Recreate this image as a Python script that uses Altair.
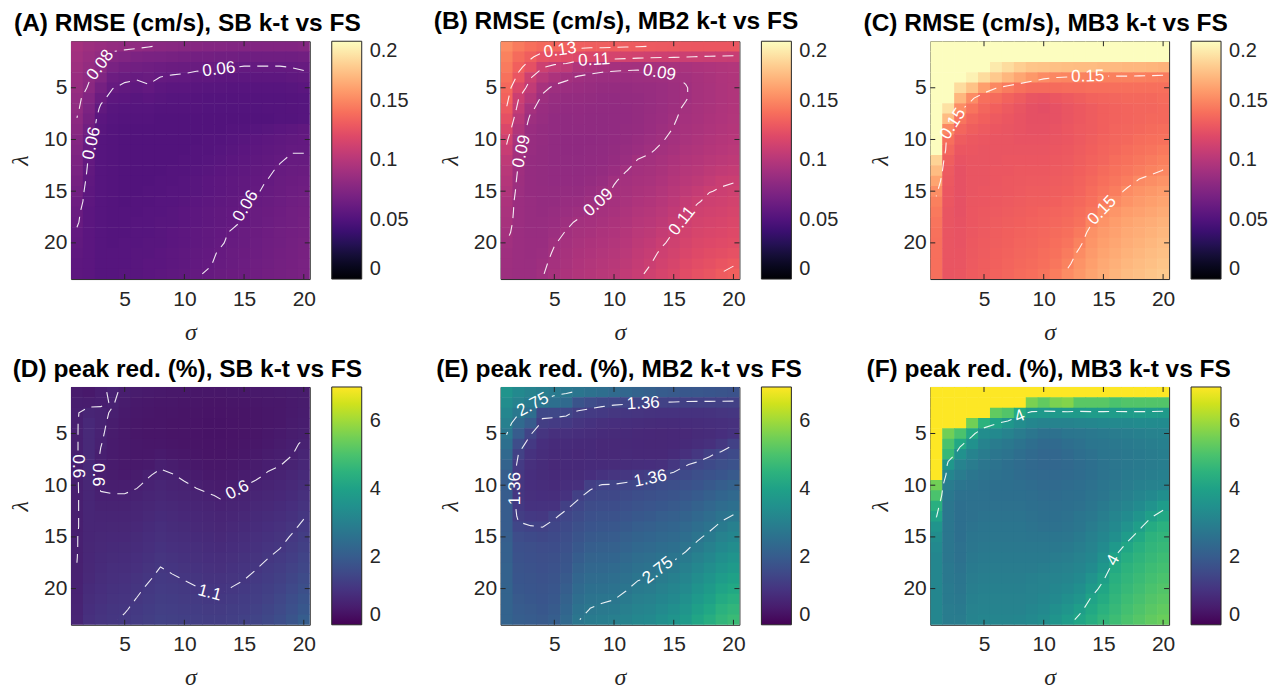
import math
import numpy as np
import pandas as pd
import altair as alt

# ---------------- axes values ----------------
SIGMA = list(range(1, 21))      # columns
LAMBDA = list(range(1, 24))     # rows
X_TICKS = [5, 10, 15, 20]
Y_TICKS = [5, 10, 15, 20]

TITLES = [
    "(A) RMSE (cm/s), SB k-t vs FS",
    "(B) RMSE (cm/s), MB2 k-t vs FS",
    "(C) RMSE (cm/s), MB3 k-t vs FS",
    "(D) peak red. (%), SB k-t vs FS",
    "(E) peak red. (%), MB2 k-t vs FS",
    "(F) peak red. (%), MB3 k-t vs FS",
]

# ---------------- (A) RMSE SB, x1000 ----------------
A_COL1 = [92, 90, 88, 86, 85, 83, 82, 79.8, 78, 76, 74, 72, 70, 68, 66, 64, 62, 61, 59, 58, 57, 56, 56]
A_COL2 = [88, 86, 84, 81, 79, 75, 72, 69, 66, 63, 61, 59, 58, 57, 56, 56, 55, 55, 55, 55, 55, 55, 55]
A_REST = [  # columns 3..20, one row per lambda
    [86, 84, 83, 82, 80.5, 79, 78, 77, 77, 76, 76, 75, 75, 75, 75, 75, 75, 76],
    [83, 76, 74, 72, 71, 70, 69, 68, 67, 67, 66, 66, 65, 65, 65, 65, 65, 66],
    [79, 70, 67, 66, 65, 64, 63, 62.5, 62, 61.5, 61, 60.3, 59.5, 59.5, 59.5, 59.5, 60.2, 61],
    [74, 64, 62, 61, 62, 59.8, 59, 58.5, 57, 57, 56, 56, 56, 56, 56, 56, 57, 58],
    [68, 60.4, 58, 57, 59, 56, 55, 55, 54.5, 54, 54, 53.5, 53.5, 53.5, 53.5, 53.5, 54, 55],
    [63, 56, 55, 54, 55, 54, 53, 53, 52.5, 52, 52, 52, 52, 52, 52, 52, 52.5, 53],
    [58, 54, 53, 53, 53, 52, 52, 52, 52, 51.5, 51.5, 51.5, 51.5, 51.5, 52, 52, 52.5, 53],
    [55, 53, 52, 52, 52, 51, 51, 51, 51, 51, 51, 51, 51, 51, 51, 52, 52, 53],
    [54, 52, 51, 51, 51, 51, 51, 51, 51, 51, 51, 52, 52, 53, 54, 55, 56, 57.5],
    [53, 52, 51, 51, 51, 51, 51, 51, 51, 52, 52, 53, 54, 55, 56, 57, 58, 59],
    [53, 52, 51, 51, 51, 51, 51, 51, 52, 52, 53, 54, 55, 56, 57, 58, 59.5, 59.5],
    [53, 52, 51, 51, 51, 51, 51, 52, 52, 53, 54, 55, 56, 57, 58, 59.5, 61, 61],
    [53, 52, 51, 51, 51, 51, 52, 52, 53, 54, 55, 56, 57, 58, 59, 61, 62, 62.5],
    [53, 52, 51, 51, 51, 52, 52, 53, 54, 55, 56, 57, 58, 59, 60.2, 62, 63, 64],
    [53, 52, 51, 51, 52, 52, 53, 53, 54, 55, 56, 57, 58, 59.5, 61, 62.5, 64, 65],
    [53, 52, 51, 52, 52, 53, 53, 54, 55, 56, 57, 58, 59.5, 61, 62, 63.5, 65, 66],
    [53, 52, 52, 52, 53, 53, 54, 55, 56, 57, 58, 59, 60.2, 62, 63, 64.5, 66, 67],
    [53, 52, 52, 53, 53, 54, 54, 55, 56, 57, 58, 59, 60.5, 62, 63.5, 65, 66, 67.5],
    [53, 52, 52, 53, 53, 54, 55, 56, 57, 58, 59, 60.5, 62, 63, 64.5, 66, 67, 68],
    [53, 52, 53, 53, 54, 54, 55, 56, 57, 58, 59.5, 61, 62, 63.5, 65, 66, 67.5, 69],
    [53, 53, 53, 54, 54, 55, 56, 57, 58, 59, 60.5, 62, 63, 64, 65.5, 67, 68, 69.5],
    [53, 53, 53, 54, 55, 55, 56, 57, 58.5, 59.5, 61, 62, 63.5, 65, 66, 67.5, 68.5, 70],
    [53, 53, 54, 54, 55, 56, 57, 58, 59.5, 60.5, 62, 63, 64, 65.5, 67, 68, 69, 71],
]

# ---------------- (B) RMSE MB2, x1000, one list per sigma column ----------------
B_COLS = [
    [152, 148, 145, 141, 137, 134, 129.5, 124, 118, 112, 108, 104, 101, 99, 97, 95, 94, 93, 91.5, 89.8, 89, 88.5, 88],
    [145, 138, 133, 127, 118, 110.5, 106, 101, 97, 94, 92, 90.5, 89, 88, 87.5, 87, 87, 87, 87, 87, 87, 87, 87],
    [140, 132, 124, 111, 105, 99, 92, 88, 86, 85, 85, 84.5, 84.5, 84.5, 84.5, 85, 85, 85, 85.5, 86, 86, 86.5, 87],
    [137, 125, 111, 101, 93, 88, 86, 85, 84, 84, 83.5, 83.5, 83.5, 83.5, 84, 84, 84.5, 85, 85.5, 86, 87, 88.5, 89.5],
    [136, 123, 106, 95, 88, 85, 84, 83, 83, 82.5, 82.5, 82.5, 83, 83, 83.5, 84, 85, 86, 87.5, 89.5, 91, 92, 93],
    [133, 121, 104, 91.5, 87, 84, 83, 82, 82, 81.5, 81.5, 82, 82.5, 83, 84, 85, 86.5, 88.5, 90.5, 92, 93, 94, 95],
    [132.5, 119, 97, 89, 86, 84, 83, 82.5, 82, 81.5, 81.5, 82, 82.5, 83, 84, 85.5, 88, 91, 92.5, 94, 95, 96.5, 97.5],
    [132, 117, 95, 87.5, 85, 83.5, 82.5, 82, 82, 81.5, 82, 82.5, 83, 84, 85.5, 88, 90.5, 92, 93.5, 95, 96.5, 98, 99],
    [132, 116, 93, 87, 84.5, 83, 82.5, 82, 82, 82, 82.5, 83, 84, 85.5, 88, 90.5, 92, 93.5, 95, 96.5, 98, 99.5, 101],
    [131.5, 115, 92, 87, 84.5, 83, 82.5, 82.5, 82.5, 83, 83.5, 84.5, 86, 89.5, 90.8, 92, 93.5, 95, 96.5, 98, 99.5, 101, 102.5],
    [131, 114, 91.5, 87, 84.5, 83.5, 83, 83, 83.5, 84, 85, 86.5, 89.8, 91.5, 92.5, 94, 95.5, 97, 99, 100.5, 102, 103.5, 105],
    [130.5, 113, 91, 87.5, 85, 84, 84, 84, 84.5, 85.5, 87, 90.3, 91.5, 93, 94.5, 96, 98, 100, 102, 103.5, 105, 106.5, 108],
    [129.8, 112, 91.5, 88, 85.5, 85, 85, 85.5, 86, 87.5, 89.3, 91, 92.5, 94, 95.5, 97.5, 99.5, 101.5, 103.5, 105.5, 107.5, 109.5, 112],
    [129.5, 111.5, 92, 88.5, 86.5, 86.5, 86.5, 87, 88, 89.5, 91, 93, 94.5, 96, 98, 100, 102, 104, 106.5, 109, 111.5, 113.5, 115.5],
    [129, 111, 93, 89.5, 88, 88, 88.5, 89.3, 90.3, 91.5, 93, 95, 97, 99, 101, 103, 105, 107.5, 110.2, 112, 114, 116, 118],
    [128.5, 110.5, 94, 91, 89.5, 89.5, 91, 92, 93, 94, 95.5, 97.5, 99.5, 101.5, 104, 106.5, 109, 111.5, 113.5, 115.5, 117.5, 120, 122],
    [128, 109.8, 95, 93, 92.5, 92.5, 93, 93.5, 94.5, 95.5, 97, 99, 101, 103.5, 106.5, 109.5, 112, 114, 116, 118, 120, 122.5, 125],
    [128, 109, 96, 94.5, 94, 94, 94.5, 95, 96, 97.5, 99, 101, 103.5, 106, 109.8, 111.5, 113.5, 115.5, 117.5, 119.5, 122, 124.5, 127],
    [128, 108.5, 97, 96, 95.5, 95.5, 96, 96.5, 97.5, 99, 100.5, 102.5, 105, 109.3, 110.5, 112.5, 114.5, 116.5, 118.5, 120.5, 123, 126.5, 130.5],
    [128, 108, 98, 97, 97, 97, 97.5, 98, 99, 100.5, 102, 104, 106.5, 109.5, 112, 114, 116, 118, 120, 122, 125, 129, 133],
]

# ---------------- (C) RMSE MB3, x1000, one list per lambda row ----------------
C_ROWS = [
    [240] * 20,
    [220] * 20,
    [215, 212, 210, 205, 202, 192, 186, 180, 176, 175, 174, 173, 172, 172, 171, 171, 170, 170, 169, 168],
    [215, 210, 204, 195, 186, 178, 170, 163, 157, 152, 150.2, 149, 148, 147.5, 147, 147, 147, 146.5, 146, 145],
    [212, 205, 186, 175, 160, 150.5, 145, 141, 138, 138, 138, 139, 139, 140, 140, 140, 140, 140, 140, 140],
    [210, 200, 170, 152, 140, 138, 134, 131, 127, 126, 128, 130, 132, 134, 135, 136, 137, 137, 137, 138],
    [208, 188, 153, 142, 136, 133, 130, 127, 124, 123, 125, 127, 129, 131, 133, 134, 135, 136, 136, 137],
    [207, 172, 142, 136, 133, 130, 128, 126, 124, 124, 125, 127, 129, 131, 133, 134, 135, 136, 137, 137],
    [206, 150.5, 136, 132, 130, 128, 127, 126, 125, 125, 126, 128, 130, 131, 133, 135, 136, 137, 138, 139],
    [205, 140, 131, 129, 128, 127, 127, 126, 126, 126, 127, 128, 130, 132, 134, 136, 137, 139, 140, 141],
    [203, 136, 128, 128, 127, 127, 127, 127, 127, 127, 128, 129, 131, 133, 135, 137, 139, 141, 142, 144],
    [182, 132, 126, 127, 127, 127, 128, 128, 128, 128, 129, 130, 132, 134, 136, 139, 141, 143, 145, 147],
    [172, 130, 125, 127, 127, 128, 128, 129, 129, 129, 130, 131, 133, 135, 138, 141, 143, 145.5, 148, 150.2],
    [162, 129, 125, 127, 127, 128, 129, 129.5, 130, 130, 131, 132, 134, 137, 140, 143, 146, 151, 153, 155],
    [153, 128, 125, 127, 128, 128.5, 129, 130, 131, 131, 132, 133, 135, 138.5, 142, 146, 152, 155, 157, 159],
    [147, 128, 125, 127.5, 128, 129, 130, 131, 132, 132, 133, 135, 137, 140, 145, 151, 155, 158, 160, 162],
    [144, 127, 125, 128, 129, 130, 131, 132, 133, 134, 135, 136.5, 139, 143, 152, 156, 159, 161, 163, 165],
    [142, 127, 125.5, 128, 129.5, 131, 132, 133, 134, 135, 136.5, 138, 141, 149, 155, 159, 162, 164, 166, 168],
    [141, 127, 126, 128.5, 130, 131.5, 133, 134, 135, 136.5, 138, 140, 144, 154, 158, 161, 164, 166, 168, 170],
    [140, 127, 126, 129, 130.5, 132, 133.5, 135, 136, 137.5, 139.5, 142, 148, 156, 160, 163, 166, 168, 170, 172],
    [140, 127, 126.5, 129.5, 131, 133, 134, 136, 137, 139, 141, 145, 152, 158, 162, 165, 168, 170, 172, 174],
    [140, 127, 127, 130, 131.5, 133.5, 135, 137, 138, 140, 143, 148, 155, 160, 164, 167, 170, 172, 174, 176],
    [140, 127, 127.5, 130.5, 132, 134, 136, 138, 139.5, 142, 146, 152, 157, 162, 166, 169, 172, 174, 176, 178],
]

# ---------------- (D) peak red. SB, x100, one list per sigma column ----------------
D_COLS = [
    [50, 55, 58, 58, 58, 58, 58, 58, 58, 58, 58, 58, 58, 58, 59, 59, 59.5, 60.5, 62, 64, 66, 68, 70],
    [45, 52, 70, 78, 80, 80, 80, 78, 76, 74, 72, 72, 72, 72, 73, 74, 75, 77, 80, 84, 88, 92, 96],
    [56, 56, 66, 66, 64, 61, 58, 56, 55, 57, 62, 66, 70, 73, 76, 79, 82, 85, 88, 92, 96, 100, 104],
    [64, 62, 57, 53, 50, 49, 48, 48, 50, 55, 61, 66, 70, 74, 78, 82, 86, 90, 94, 98, 102, 106, 108],
    [55, 50, 47, 45, 44, 44, 44, 45, 47, 55, 61, 65, 69, 74, 78, 83, 87, 91, 96, 100, 104, 108, 113],
    [50, 45, 42, 41, 41, 42, 43, 45, 50, 58, 64, 69, 73, 78, 83, 87, 92, 96, 101, 106, 110.5, 115, 120],
    [47, 43, 40, 39, 39, 40, 42, 47, 58.5, 64, 69, 74, 79, 84, 89, 94, 98, 103, 108, 113, 117, 121, 125],
    [45, 41, 39, 38, 39, 41, 46, 57, 64, 69, 74, 80, 85, 90, 95, 100, 105, 110.5, 115, 120, 124, 128, 132],
    [43, 40, 38, 37, 37, 39, 43, 52, 61, 66, 71, 76, 81, 86, 91, 96, 101, 107, 112, 117, 122, 127, 131],
    [42, 39, 37, 36, 36, 37, 40, 46, 55, 63, 68, 73, 78, 83, 88, 93, 98, 103, 109, 114, 119, 124, 129],
    [41, 38, 36, 35, 35, 36, 38, 42, 49, 58, 65, 70, 75, 80, 85, 90, 95, 100, 106, 111, 116, 121, 126],
    [41, 37, 35, 34, 34, 35, 37, 40, 45, 53, 62, 67, 72, 77, 82, 87, 92, 97, 102, 108, 113, 118, 123],
    [41, 37, 35, 34, 34, 35, 37, 40, 44, 50, 58, 64, 69, 74, 80, 85, 90, 95, 101, 107, 113, 118, 123],
    [42, 38, 36, 35, 35, 36, 38, 42, 47, 54, 62, 68, 73, 79, 84, 89, 95, 100, 105, 111, 117, 123, 128],
    [43, 39, 37, 36, 36, 38, 41, 45, 51, 59, 66, 71, 77, 82, 88, 93, 99, 104, 109, 115, 121, 127, 133],
    [44, 40, 38, 38, 39, 41, 45, 50, 56, 64, 70, 76, 82, 87, 93, 98, 103, 109, 115, 121, 127, 133, 139],
    [45, 42, 40, 40, 42, 45, 50, 56, 62, 68, 74, 80, 86, 92, 98, 104, 109.5, 116, 122, 129, 136, 143, 150],
    [46, 43, 42, 43, 46, 50, 55, 59, 66, 72, 78, 85, 91, 97, 103, 109, 116, 123, 130, 138, 146, 154, 162],
    [48, 46, 46, 48, 52, 56, 59, 66, 72, 79, 85, 92, 98, 105, 112, 119, 127, 135, 143, 152, 161, 170, 180],
    [50, 50, 51, 54, 57, 63, 69, 75, 82, 88, 95, 101, 108, 115, 123, 131, 139, 148, 157, 167, 178, 190, 202],
]

# ---------------- (E) peak red. MB2, x100, one list per sigma column ----------------
E_COLS = [
    [360, 340, 320, 300, 278, 255, 235, 220, 205, 200, 200, 200, 200, 200, 205, 210, 210, 215, 215, 220, 220, 220, 220],
    [330, 305, 280, 240, 200, 160, 135, 120, 112, 110, 110, 115, 125, 145, 160, 170, 175, 180, 185, 190, 195, 200, 205],
    [310, 285, 250, 200, 140, 115, 100, 95, 92, 92, 95, 100, 115, 138, 155, 165, 170, 175, 180, 185, 190, 195, 200],
    [295, 270, 150, 125, 105, 92, 88, 86, 86, 88, 92, 100, 112, 135, 150, 160, 165, 170, 175, 180, 185, 190, 195],
    [285, 255, 150, 120, 95, 85, 82, 80, 82, 85, 90, 100, 132, 145, 155, 162, 168, 175, 180, 186, 192, 198, 205],
    [280, 240, 145, 115, 95, 85, 82, 82, 85, 90, 100, 130, 145, 155, 163, 172, 180, 187, 195, 205, 215, 225, 235],
    [270, 180, 125, 105, 90, 82, 80, 82, 86, 95, 130, 145, 157, 169, 180, 192, 203, 215, 227, 239, 250, 262, 273],
    [260, 160, 120, 100, 88, 82, 82, 85, 92, 128, 145, 158, 170, 182, 194, 206, 218, 230, 242, 254, 265, 276, 288],
    [250, 150, 115, 95, 85, 80, 80, 85, 100, 138, 150, 162, 174, 186, 198, 210, 222, 234, 246, 258, 270, 282, 294],
    [240, 145, 110, 92, 83, 80, 80, 86, 105, 139, 150, 162, 175, 188, 200, 212, 225, 238, 250, 262, 274, 286, 298],
    [230, 142, 108, 90, 82, 80, 81, 88, 110, 145, 157, 170, 183, 196, 209, 222, 235, 248, 260, 272, 285, 297, 310],
    [220, 140, 105, 88, 80, 78, 80, 90, 118, 150, 163, 177, 191, 205, 219, 233, 247, 260, 272, 285, 298, 310, 322],
    [210, 138, 102, 86, 78, 77, 80, 92, 125, 155, 169, 183, 197, 211, 225, 239, 253, 266, 276, 290, 303, 316, 330],
    [200, 135, 100, 85, 77, 76, 80, 95, 133, 160, 175, 190, 205, 220, 234, 248, 262, 276, 290, 304, 318, 332, 346],
    [195, 133, 100, 85, 78, 78, 85, 110, 145, 165, 180, 195, 210, 225, 240, 255, 270, 285, 300, 315, 330, 345, 360],
    [190, 130, 100, 87, 80, 82, 95, 133, 155, 172, 188, 204, 220, 236, 252, 268, 284, 300, 316, 332, 348, 364, 380],
    [188, 130, 100, 88, 83, 88, 110, 145, 165, 182, 199, 216, 233, 250, 268, 286, 304, 322, 340, 358, 376, 394, 412],
    [185, 130, 102, 90, 86, 95, 130, 155, 175, 193, 211, 229, 247, 266, 285, 304, 323, 342, 361, 380, 398, 416, 434],
    [180, 130, 105, 93, 92, 110, 145, 165, 185, 205, 225, 245, 265, 285, 305, 325, 345, 365, 385, 405, 425, 445, 460],
    [175, 130, 108, 97, 100, 134, 155, 175, 195, 215, 235, 255, 278, 300, 320, 340, 360, 380, 400, 420, 440, 460, 475],
]

# ---------------- (F) peak red. MB3, x100, one list per lambda row ----------------
F_ROWS = [
    [800] * 20,
    [750, 750, 750, 750, 750, 750, 750, 750, 560, 530, 560, 570, 520, 520, 520, 500, 510, 510, 510, 510],
    [750, 750, 750, 750, 750, 530, 510, 430, 380, 375, 375, 380, 380, 385, 385, 385, 385, 385, 385, 380],
    [750, 750, 750, 550, 450, 405, 370, 340, 320, 310, 310, 310, 315, 320, 325, 330, 330, 335, 335, 335],
    [750, 550, 500, 420, 340, 330, 310, 290, 275, 260, 260, 270, 275, 280, 285, 290, 295, 300, 305, 310],
    [750, 500, 420, 350, 310, 290, 280, 265, 250, 240, 240, 250, 260, 270, 275, 280, 285, 290, 295, 300],
    [750, 470, 350, 310, 290, 275, 265, 250, 240, 230, 230, 240, 250, 260, 270, 275, 280, 285, 290, 295],
    [750, 370, 310, 290, 275, 265, 255, 245, 235, 230, 230, 235, 245, 255, 265, 275, 280, 285, 290, 295],
    [750, 320, 290, 275, 265, 260, 255, 245, 240, 235, 235, 240, 245, 255, 265, 275, 285, 290, 295, 300],
    [550, 290, 270, 265, 260, 255, 255, 250, 245, 240, 240, 245, 250, 260, 270, 280, 290, 300, 305, 310],
    [500, 280, 260, 260, 260, 255, 255, 255, 250, 245, 245, 250, 255, 265, 275, 290, 300, 315, 330, 345],
    [440, 275, 255, 260, 260, 260, 260, 260, 255, 250, 250, 255, 260, 270, 285, 300, 315, 335, 355, 385],
    [405, 275, 255, 260, 265, 265, 265, 265, 260, 255, 255, 260, 270, 280, 295, 315, 335, 360, 395, 420],
    [360, 275, 255, 265, 270, 270, 270, 270, 265, 260, 260, 265, 275, 290, 305, 330, 355, 390, 430, 445],
    [340, 275, 255, 270, 275, 275, 275, 275, 270, 270, 270, 275, 285, 300, 320, 345, 385, 420, 450, 460],
    [330, 275, 260, 275, 280, 280, 280, 280, 280, 280, 280, 285, 295, 310, 335, 375, 415, 440, 460, 470],
    [320, 275, 260, 280, 285, 285, 285, 285, 285, 285, 290, 295, 305, 320, 350, 405, 435, 455, 470, 480],
    [320, 280, 265, 285, 290, 290, 290, 290, 290, 295, 300, 305, 315, 335, 370, 425, 450, 465, 480, 490],
    [320, 280, 270, 290, 295, 295, 295, 295, 300, 305, 310, 315, 330, 355, 395, 440, 460, 475, 490, 500],
    [320, 285, 275, 295, 300, 300, 300, 300, 305, 310, 320, 330, 345, 380, 415, 450, 470, 485, 500, 510],
    [320, 285, 280, 300, 305, 305, 305, 305, 310, 320, 330, 345, 365, 405, 430, 460, 480, 495, 510, 520],
    [320, 290, 285, 305, 310, 310, 310, 310, 320, 330, 345, 365, 390, 420, 445, 470, 490, 505, 520, 530],
    [320, 290, 290, 310, 315, 315, 315, 320, 330, 340, 360, 385, 410, 435, 460, 480, 500, 515, 530, 540],
]

# contour levels and their printed labels
LEVELS_A = [(0.06, "0.06"), (0.08, "0.08")]
LEVELS_B = [(0.09, "0.09"), (0.11, "0.11"), (0.13, "0.13")]
LEVELS_C = [(0.15, "0.15")]
LEVELS_D = [(0.6, "0.6"), (1.1, "1.1")]
LEVELS_E = [(1.36, "1.36"), (2.75, "2.75")]
LEVELS_F = [(4.0, "4")]

RMSE_TICKS = [0, 0.05, 0.1, 0.15, 0.2]
PEAK_TICKS = [0, 2, 4, 6]

PW, PH = 239, 238

# ---------------- assemble grids (rows = lambda, cols = sigma) ----------------
ZA = np.column_stack([np.array(A_COL1), np.array(A_COL2), np.array(A_REST)]) / 1000.0
ZB = np.array(B_COLS).T / 1000.0
ZC = np.array(C_ROWS) / 1000.0
ZD = np.array(D_COLS).T / 100.0
ZE = np.array(E_COLS).T / 100.0
ZF = np.array(F_ROWS) / 100.0
for Z in (ZA, ZB, ZC, ZD, ZE, ZF):
    assert Z.shape == (len(LAMBDA), len(SIGMA)), Z.shape


# ---------------- contour extraction (marching squares) ----------------
def march(Z, level):
    ny, nx = Z.shape
    segs = []
    for i in range(ny - 1):
        for j in range(nx - 1):
            a, b, c, d = Z[i, j], Z[i, j + 1], Z[i + 1, j + 1], Z[i + 1, j]
            P = {"a": (j, i), "b": (j + 1, i), "c": (j + 1, i + 1), "d": (j, i + 1)}
            V = {"a": a, "b": b, "c": c, "d": d}
            edges = [("top", "a", "b"), ("right", "b", "c"), ("bottom", "d", "c"), ("left", "a", "d")]
            cr = {}
            for name, p, q in edges:
                vp, vq = V[p], V[q]
                if (vp >= level) != (vq >= level):
                    t = (level - vp) / (vq - vp)
                    cr[name] = (P[p][0] + t * (P[q][0] - P[p][0]), P[p][1] + t * (P[q][1] - P[p][1]))
            if len(cr) == 2:
                k = list(cr.values())
                segs.append((k[0], k[1]))
            elif len(cr) == 4:
                m = (a + b + c + d) / 4.0
                if (m >= level) == (a >= level):
                    segs.append((cr["top"], cr["right"]))
                    segs.append((cr["bottom"], cr["left"]))
                else:
                    segs.append((cr["top"], cr["left"]))
                    segs.append((cr["right"], cr["bottom"]))
    return segs


def chain(segs):
    key = lambda p: (round(p[0], 6), round(p[1], 6))
    adj = {}
    for idx, (p, q) in enumerate(segs):
        adj.setdefault(key(p), []).append(idx)
        adj.setdefault(key(q), []).append(idx)
    used = [False] * len(segs)
    paths = []
    for s in range(len(segs)):
        if used[s]:
            continue
        used[s] = True
        path = [segs[s][0], segs[s][1]]
        for forward in (True, False):
            while True:
                end = path[-1] if forward else path[0]
                k = key(end)
                nxt = None
                for t in adj.get(k, []):
                    if not used[t]:
                        nxt = t
                        break
                if nxt is None:
                    break
                used[nxt] = True
                p, q = segs[nxt]
                other = q if key(p) == k else p
                if forward:
                    path.append(other)
                else:
                    path.insert(0, other)
        paths.append(path)
    return paths


def contour_frames(Z, levels):
    sx = PW / len(SIGMA)
    sy = PH / len(LAMBDA)
    line_rows, label_rows = [], []
    pid = 0
    for val, txt in levels:
        for path in chain(march(Z, val)):
            P = np.array([(SIGMA[0] + x, LAMBDA[0] + y) for x, y in path])
            pxl = np.column_stack([P[:, 0] * sx, P[:, 1] * sy])
            d = np.r_[0.0, np.cumsum(np.hypot(np.diff(pxl[:, 0]), np.diff(pxl[:, 1])))]
            L = d[-1]
            gaps = []
            if L >= 45:
                n = max(1, int(round(L / 200.0)))
                half = (sum(0.278 if ch == "." else 0.556 for ch in txt) * 17) / 2 + 4
                for k in range(n):
                    s = (k + 0.5) * L / n
                    x = float(np.interp(s, d, P[:, 0]))
                    y = float(np.interp(s, d, P[:, 1]))
                    x1 = np.interp(max(s - 10, 0), d, pxl[:, 0]); y1 = np.interp(max(s - 10, 0), d, pxl[:, 1])
                    x2 = np.interp(min(s + 10, L), d, pxl[:, 0]); y2 = np.interp(min(s + 10, L), d, pxl[:, 1])
                    ang = math.degrees(math.atan2(y2 - y1, x2 - x1))
                    if ang >= 90:
                        ang -= 180
                    if ang < -90:
                        ang += 180
                    label_rows.append({"x": x, "y": y, "t": txt, "a": ang % 360})
                    gaps.append((s - half, s + half))
            intervals, cur = [], 0.0
            for g0, g1 in sorted(gaps):
                if g0 > cur:
                    intervals.append((cur, g0))
                cur = max(cur, g1)
            if cur < L:
                intervals.append((cur, L))
            for u, v in intervals:
                if v - u < 2:
                    continue
                pts = [(np.interp(u, d, P[:, 0]), np.interp(u, d, P[:, 1]))]
                for k in range(len(d)):
                    if u < d[k] < v:
                        pts.append((P[k, 0], P[k, 1]))
                pts.append((np.interp(v, d, P[:, 0]), np.interp(v, d, P[:, 1])))
                for o, (x, y) in enumerate(pts):
                    line_rows.append({"x": float(x), "y": float(y), "pid": pid, "o": o})
                pid += 1
    ldf = pd.DataFrame(line_rows, columns=["x", "y", "pid", "o"])
    tdf = pd.DataFrame(label_rows, columns=["x", "y", "t", "a"])
    return ldf, tdf


# ---------------- one panel ----------------
def panel(Z, levels, scheme, dmax, legend_vals, title, tdx):
    rows = []
    ov = 0.05  # tiny overlap of neighbouring cells so no hairline seams show
    for i, lam in enumerate(LAMBDA):
        for j, sig in enumerate(SIGMA):
            rows.append({"x": sig - 0.5, "x1": sig + 0.5 + ov, "y": lam - 0.5, "y1": lam + 0.5 + ov,
                         "v": float(Z[i, j])})
    df = pd.DataFrame(rows)

    xs = alt.Scale(domain=[SIGMA[0] - 0.5, SIGMA[-1] + 0.5], nice=False, zero=False)
    ys = alt.Scale(domain=[LAMBDA[0] - 0.5, LAMBDA[-1] + 0.5], nice=False, zero=False, reverse=True)
    xax = alt.Axis(values=X_TICKS, title="σ", labelFlush=False)
    yax = alt.Axis(values=Y_TICKS, title="λ", labelFlush=False)
    cscale = alt.Scale(scheme=scheme, domain=[0, dmax], clamp=True)

    def X(f):
        return alt.X(f, scale=xs, axis=xax)

    def Y(f):
        return alt.Y(f, scale=ys, axis=yax)

    rect = alt.Chart(df).mark_rect(clip=True).encode(
        x=X("x:Q"), x2="x1:Q", y=Y("y:Q"), y2="y1:Q",
        color=alt.Color("v:Q", scale=cscale, title=None,
                        legend=alt.Legend(type="gradient", values=legend_vals, format="~g",
                                          orient="right", direction="vertical", gradientLength=PH,
                                          gradientThickness=30, offset=22, labelOffset=8,
                                          labelBaseline="middle", labelOverlap=False, padding=0)),
    )

    tdf_x = pd.DataFrame({"x": X_TICKS})
    tdf_y = pd.DataFrame({"y": Y_TICKS})
    tick_col = "#262626"
    tick_top = alt.Chart(tdf_x).mark_rule(color=tick_col).encode(x=X("x:Q"), y=alt.value(0), y2=alt.value(5))
    tick_bot = alt.Chart(tdf_x).mark_rule(color=tick_col).encode(x=X("x:Q"), y=alt.value(PH), y2=alt.value(PH - 5))
    tick_left = alt.Chart(tdf_y).mark_rule(color=tick_col).encode(y=Y("y:Q"), x=alt.value(0), x2=alt.value(5))
    tick_right = alt.Chart(tdf_y).mark_rule(color=tick_col).encode(y=Y("y:Q"), x=alt.value(PW), x2=alt.value(PW - 5))

    ldf, tdf = contour_frames(Z, levels)
    lines = alt.Chart(ldf).mark_line(color="white", strokeWidth=1.1, strokeDash=[11, 7], opacity=0.9).encode(
        x=X("x:Q"), y=Y("y:Q"), detail="pid:N", order="o:Q",
    )
    labels = alt.Chart(tdf).mark_text(color="white", font="Liberation Sans", fontSize=17,
                                      align="center", baseline="middle").encode(
        x=X("x:Q"), y=Y("y:Q"), text="t:N", angle=alt.Angle("a:Q", scale=None),
    )
    return alt.layer(rect, tick_top, tick_bot, tick_left, tick_right, lines, labels).properties(
        width=PW, height=PH, title=alt.Title(title, dx=tdx)
    )


panels = [
    panel(ZA, LEVELS_A, "magma", 0.2, RMSE_TICKS, TITLES[0], -3),
    panel(ZB, LEVELS_B, "magma", 0.2, RMSE_TICKS, TITLES[1], -4),
    panel(ZC, LEVELS_C, "magma", 0.2, RMSE_TICKS, TITLES[2], -4),
    panel(ZD, LEVELS_D, "viridis", 7, PEAK_TICKS, TITLES[3], -3),
    panel(ZE, LEVELS_E, "viridis", 7, PEAK_TICKS, TITLES[4], -1),
    panel(ZF, LEVELS_F, "viridis", 7, PEAK_TICKS, TITLES[5], -1),
]

chart = alt.concat(
    *panels, columns=3, spacing={"row": 108, "column": 191}, bounds="flush"
).resolve_scale(
    color="independent", x="independent", y="independent"
).resolve_legend(color="independent").properties(
    padding=0
).configure_view(
    stroke="#262626", strokeWidth=1
).configure_axis(
    labelFont="Liberation Sans", labelFontSize=21, labelColor="#262626",
    titleFont="Liberation Serif", titleFontSize=24, titleFontStyle="italic",
    titleFontWeight="normal", titleColor="#262626",
    ticks=False, domain=False, grid=False,
).configure_axisX(
    labelPadding=9, titlePadding=11
).configure_axisY(
    labelPadding=4, titleX=-62, titleY=PH / 2, titleBaseline="top", titleAngle=270
).configure_legend(
    labelFont="Liberation Sans", labelFontSize=20, labelColor="#262626",
    gradientStrokeColor="#262626", gradientStrokeWidth=1,
).configure_title(
    font="Liberation Sans", fontSize=24.5, fontWeight="bold", color="#000000",
    anchor="middle", frame="group", offset=4,
)

chart.save("out.html", embed_options={"renderer": "svg", "actions": False})
